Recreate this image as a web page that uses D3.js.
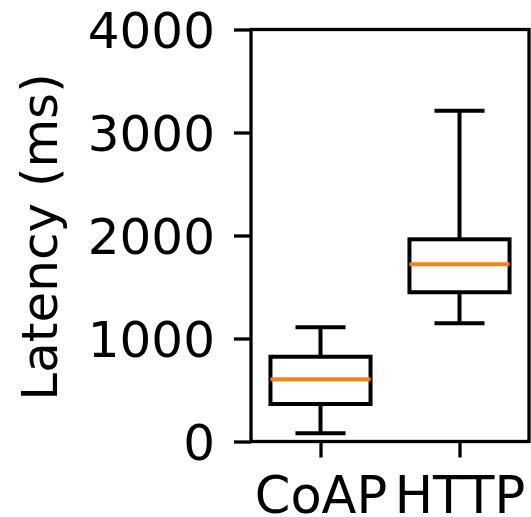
<!DOCTYPE html>
<html>
<head>
<meta charset="utf-8">
<script src="https://cdn.jsdelivr.net/npm/d3@7"></script>
<style>
  body { margin: 0; background: #fff; }
  svg { display: block; font-family: "DejaVu Sans", sans-serif; }
</style>
</head>
<body>
<div id="chart"></div>
<script>
const width = 531;
const height = 517;

// box stats (ms)
const protocols = ['CoAP', 'HTTP'];
const whiskerLow = [80, 1148];
const q1 = [364, 1449];
const median = [604, 1720];
const q3 = [823, 1963];
const whiskerHigh = [1109, 3212];
const yTicks = [0, 1000, 2000, 3000, 4000];

const boxes = protocols.map((p, i) => ({
  name: p,
  lo: whiskerLow[i],
  q1: q1[i],
  med: median[i],
  q3: q3[i],
  hi: whiskerHigh[i],
}));

const margin = { top: 29.5, right: 2, bottom: 75.5, left: 251 };

const svg = d3.select('#chart')
  .append('svg')
  .attr('width', width)
  .attr('height', height);

// positions 1, 2 with xlim 0.5..2.5 like matplotlib
const xScale = d3.scaleLinear()
  .domain([0.5, 2.5])
  .range([margin.left, width - margin.right]);

const yScale = d3.scaleLinear()
  .domain([0, 4000])
  .range([height - margin.bottom, margin.top]);

const unit = xScale(2) - xScale(1);
const boxHalf = unit * 0.36;
const capHalf = boxHalf / 2;

// axes
const yAxis = d3.axisLeft(yScale)
  .tickValues(yTicks)
  .tickFormat(d3.format('d'))
  .tickSize(17)
  .tickPadding(19);

const xAxis = d3.axisBottom(xScale)
  .tickValues([1, 2])
  .tickFormat((d) => protocols[d - 1])
  .tickSize(16)
  .tickPadding(19);

const gy = svg.append('g')
  .attr('transform', `translate(${margin.left},0)`)
  .call(yAxis);

const gx = svg.append('g')
  .attr('transform', `translate(0,${height - margin.bottom})`)
  .call(xAxis);

[gx, gy].forEach((g) => {
  g.select('.domain').remove();
  g.selectAll('line').attr('stroke', '#000').attr('stroke-width', 3.3);
  g.selectAll('text')
    .attr('fill', '#000')
    .style('font-family', '"DejaVu Sans", sans-serif');
});
gy.selectAll('text').style('font-size', '50px').attr('dy', '0.36em');
gx.selectAll('text').style('font-size', '51px');

// frame
svg.append('rect')
  .attr('x', margin.left)
  .attr('y', margin.top)
  .attr('width', width - margin.right - margin.left)
  .attr('height', height - margin.bottom - margin.top)
  .attr('fill', 'none')
  .attr('stroke', '#000')
  .attr('stroke-width', 3.3);

// boxes
const g = svg.append('g').attr('class', 'boxes');
const item = g.selectAll('g')
  .data(boxes)
  .join('g');

const cx = (d, i) => xScale(i + 1);

item.append('line')
  .attr('x1', cx).attr('x2', cx)
  .attr('y1', (d) => yScale(d.q3)).attr('y2', (d) => yScale(d.hi))
  .attr('stroke', '#000').attr('stroke-width', 4);

item.append('line')
  .attr('x1', cx).attr('x2', cx)
  .attr('y1', (d) => yScale(d.q1)).attr('y2', (d) => yScale(d.lo))
  .attr('stroke', '#000').attr('stroke-width', 4);

['hi', 'lo'].forEach((k) => {
  item.append('line')
    .attr('x1', (d, i) => cx(d, i) - capHalf)
    .attr('x2', (d, i) => cx(d, i) + capHalf)
    .attr('y1', (d) => yScale(d[k]))
    .attr('y2', (d) => yScale(d[k]))
    .attr('stroke', '#000').attr('stroke-width', 4);
});

item.append('rect')
  .attr('x', (d, i) => cx(d, i) - boxHalf)
  .attr('y', (d) => yScale(d.q3))
  .attr('width', boxHalf * 2)
  .attr('height', (d) => yScale(d.q1) - yScale(d.q3))
  .attr('fill', 'none')
  .attr('stroke', '#000').attr('stroke-width', 4);

item.append('line')
  .attr('x1', (d, i) => cx(d, i) - boxHalf)
  .attr('x2', (d, i) => cx(d, i) + boxHalf)
  .attr('y1', (d) => yScale(d.med))
  .attr('y2', (d) => yScale(d.med))
  .attr('stroke', '#ff7f0e').attr('stroke-width', 4);

// y label
svg.append('text')
  .attr('transform', `translate(57,237) rotate(-90)`)
  .attr('text-anchor', 'middle')
  .style('font-size', '50px')
  .attr('fill', '#000')
  .text('Latency (ms)');
</script>
</body>
</html>
